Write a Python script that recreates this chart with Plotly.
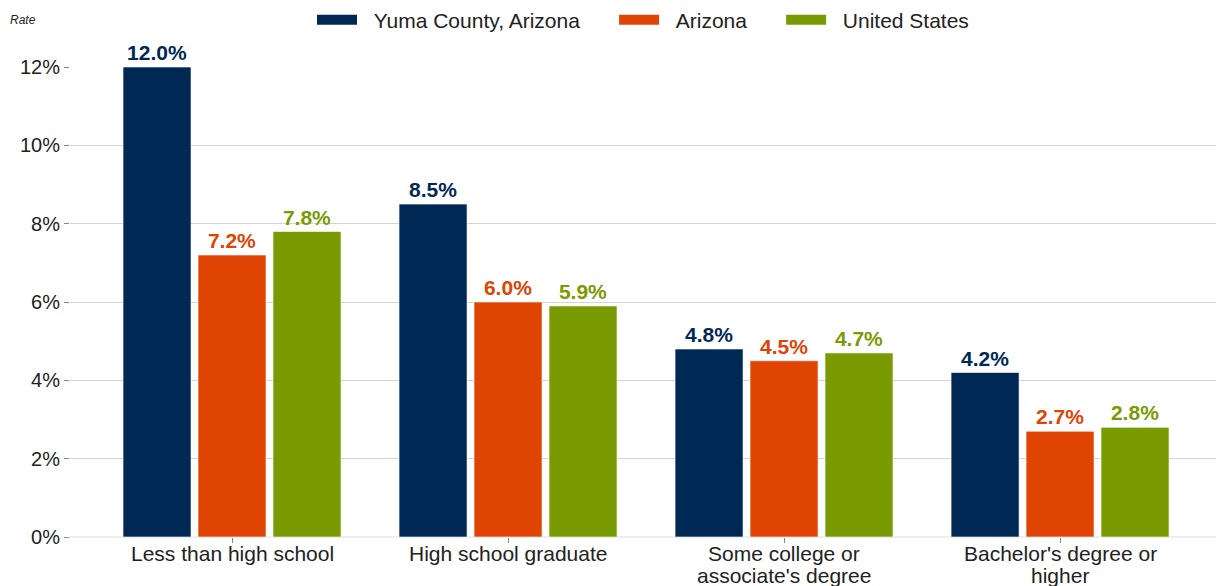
import plotly.graph_objects as go

categories = ["Less than high school", "High school graduate",
              "Some college or<br>associate's degree", "Bachelor's degree or<br>higher"]
yuma = [12.0, 8.5, 4.8, 4.2]
arizona = [7.2, 6.0, 4.5, 2.7]
us = [7.8, 5.9, 4.7, 2.8]
series_names = ["Yuma County, Arizona", "Arizona", "United States"]
colors = ["#002855", "#E04403", "#7A9A01"]
tick_vals = [0, 2, 4, 6, 8, 10, 12]
tick_text = ["0%", "2%", "4%", "6%", "8%", "10%", "12%"]

FONT = "Liberation Sans, Arial"
NB = "\u00a0"
xpos = list(range(len(categories)))
fig = go.Figure()
for name, vals, col in zip(series_names, [yuma, arizona, us], colors):
    fig.add_trace(go.Bar(
        x=xpos, y=vals, name=name, showlegend=False,
        marker=dict(color=col, line=dict(color="rgba(255,255,255,0.6)", width=1)),
        text=[f"{v:.1f}%" for v in vals], textposition="outside",
        textfont=dict(color=col, size=21, family=FONT, weight="bold"),
        cliponaxis=False, hoverinfo="skip"))
# legend entries drawn as wide swatches
for i, (name, col) in enumerate(zip(series_names, colors)):
    label = NB * 2 + name + (NB * 5 if i < len(series_names) - 1 else "")
    fig.add_trace(go.Scatter(x=[None], y=[None], mode="lines", name=label,
                             line=dict(color=col, width=14), hoverinfo="skip"))

# category labels, one annotation per line (tighter line spacing like the reference)
annotations = []
for xi, cat in zip(xpos, categories):
    for li, line in enumerate(cat.split("<br>")):
        annotations.append(dict(text=line, x=xi, xref="x", y=0, yref="paper",
                                xanchor="center", yanchor="top", yshift=-3 - 22 * li,
                                showarrow=False, font=dict(size=21, color="#222222")))
annotations.append(dict(text="<i>Rate</i>", xref="paper", yref="paper",
                        x=-0.0545, y=(586 - 49 - 20) / 470,
                        xanchor="left", yanchor="middle", showarrow=False,
                        font=dict(size=12, color="#222222")))

fig.update_layout(
    width=1216, height=586,
    margin=dict(l=70, r=0, t=67, b=49, autoexpand=False),
    barmode="group", bargap=0.185, bargroupgap=0.093,
    plot_bgcolor="white", paper_bgcolor="white",
    font=dict(family=FONT, size=20, color="#222222"),
    legend=dict(orientation="h", x=0.5, xanchor="center", y=1 - 20 / 586, yanchor="middle",
                yref="container", font=dict(size=21, color="#222222"),
                itemwidth=40, traceorder="normal"),
    xaxis=dict(tickmode="array", tickvals=xpos, showticklabels=False,
               range=[-0.587, 3.565], showgrid=False, zeroline=False, automargin=False,
               ticks="outside", ticklen=5, tickcolor="#888888", showline=False),
    yaxis=dict(range=[0, 12], tickvals=tick_vals, ticktext=tick_text, automargin=False,
               showgrid=True, gridcolor="#d4d4d4", gridwidth=1,
               zeroline=True, zerolinecolor="#eeeeee", tickfont=dict(size=20),
               ticks="outside", ticklen=5, tickcolor="#888888", showline=False),
    annotations=annotations,
)
fig.write_html("out.html", config={"displayModeBar": False},
               post_script="document.body.style.margin='0';document.body.style.overflow='hidden';")
